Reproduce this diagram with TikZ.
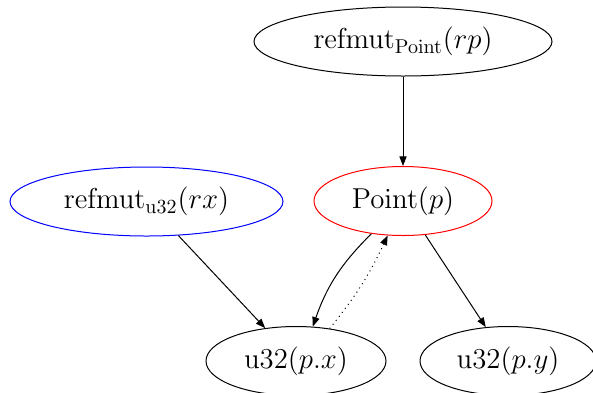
\documentclass[tikz,border=0pt]{standalone}
\usetikzlibrary{arrows.meta,shapes.geometric}
\begin{document}
\begin{tikzpicture}[x=0.5pt,y=-0.5pt,
  vnode/.style={draw,ellipse,inner sep=0pt,line width=0.5pt,minimum height=34.5pt,font=\fontsize{14.4}{17}\selectfont},
  edge/.style={line width=0.5pt,-{Triangle[length=4.8pt,width=3.6pt]}},
]
\useasboundingbox (0,0) rectangle (593,392);
\node[vnode,minimum width=149pt] (rp) at (403,41.5) {$\mathrm{refmut}_{\mathrm{Point}}(rp)$};
\node[vnode,draw=blue,minimum width=136.5pt] (rx) at (146.5,201.5) {$\mathrm{refmut}_{\mathrm{u32}}(rx)$};
\node[vnode,draw=red,minimum width=89pt] (p) at (403,201) {$\mathrm{Point}(p)$};
\node[vnode,minimum width=90pt] (px) at (296,361) {$\mathrm{u32}(p.x)$};
\node[vnode,minimum width=88pt] (py) at (508,361) {$\mathrm{u32}(p.y)$};
\draw[edge] (rp) -- (p);
\draw[edge] (rx) -- (px);
\draw[edge] (p) -- (py);
\draw[edge] (p.226) to[bend right=13] (px.64);
\draw[edge,dotted] (px.44) to[bend right=7] (p.246);
\end{tikzpicture}
\end{document}
